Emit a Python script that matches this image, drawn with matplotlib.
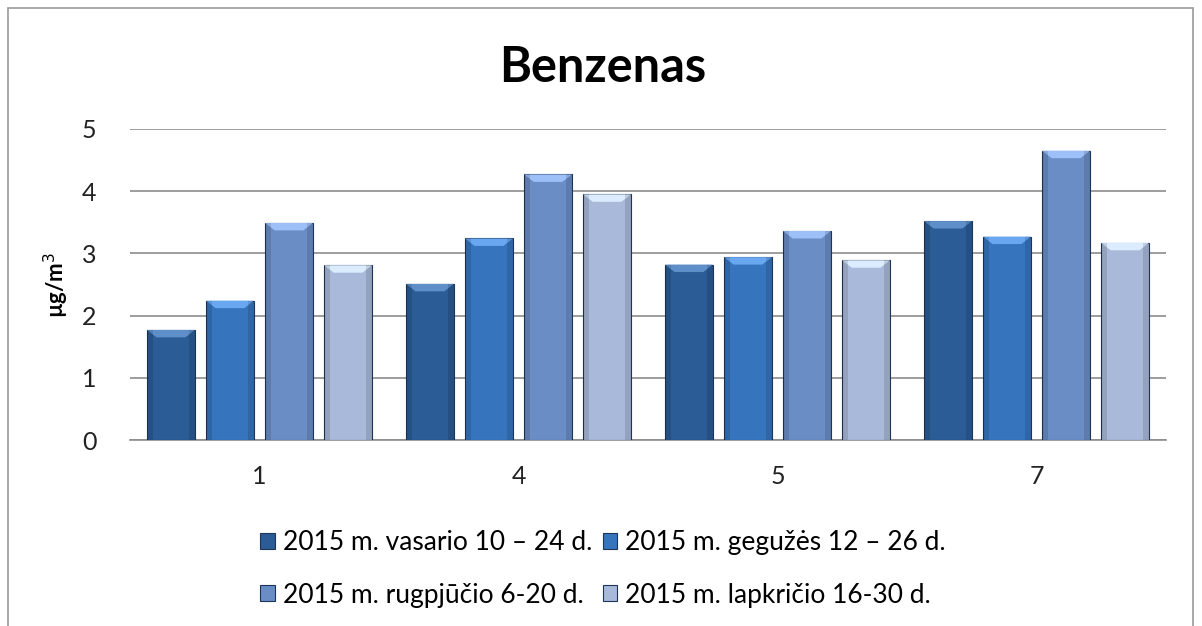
import matplotlib.pyplot as plt
import matplotlib.colors as mcolors
from matplotlib.patches import Rectangle, Polygon
import numpy as np

plt.rcParams['font.family'] = ['Lato', 'DejaVu Sans']

# stations and measuring periods
stations = ["1", "4", "5", "7"]
periods = ["2015 m. vasario 10 – 24 d.", "2015 m. gegužės 12 – 26 d.",
           "2015 m. rugpjūčio 6-20 d.", "2015 m. lapkričio 16-30 d."]
vasaris = [1.77, 2.51, 2.82, 3.52]
geguze = [2.24, 3.24, 2.94, 3.27]
rugpjutis = [3.49, 4.27, 3.36, 4.65]
lapkritis = [2.81, 3.95, 2.89, 3.17]
series = [vasaris, geguze, rugpjutis, lapkritis]
colors = ["#2b5c96", "#3675bd", "#6a8dc6", "#a9b9d9"]

fig = plt.figure(figsize=(12.02, 6.26), dpi=100)
ax = fig.add_axes([130 / 1202, 1 - 440 / 626, 1036 / 1202, 311 / 626])

x = np.arange(len(stations))
pitch = 0.228
width = 0.185
handles = []
for i in range(4):
    pos = x + (i - 1.5) * pitch
    bars = ax.bar(pos, series[i], width, color=colors[i], edgecolor="#1f3557",
                  linewidth=0.8, label=periods[i], zorder=3)
    handles.append(bars)
    # little bevel on the top of every bar, like the office chart
    light = mcolors.to_rgba(colors[i])
    light = tuple(min(1, c + 0.2) for c in light[:3])
    for b in bars:
        x0 = b.get_x()
        w = b.get_width()
        h = b.get_height()
        d = 0.12
        ax.add_patch(Polygon([[x0, h], [x0 + w, h], [x0 + w - w * 0.2, h - d],
                              [x0 + w * 0.2, h - d]], closed=True,
                             facecolor=light, edgecolor="none", zorder=4))
        # darker sides
        ax.add_patch(Rectangle((x0, 0), w * 0.12, h, facecolor="black",
                               alpha=0.12, edgecolor="none", zorder=4))
        ax.add_patch(Rectangle((x0 + w * 0.88, 0), w * 0.12, h, facecolor="black",
                               alpha=0.12, edgecolor="none", zorder=4))

ax.set_xlim(-0.5, 3.5)
ax.set_ylim(0, 5)
ax.set_yticks(range(6))
ax.set_xticks(x)
ax.set_xticklabels(stations)
ax.grid(axis="y", color="#8c8c8c", linewidth=1.2, zorder=0)
for s in ["top", "right", "left"]:
    ax.spines[s].set_visible(False)
ax.spines["bottom"].set_color("#8c8c8c")
ax.spines["bottom"].set_linewidth(1.2)
ax.tick_params(length=0, labelsize=18, colors="#222222")
ax.tick_params(axis="y", pad=24)
ax.tick_params(axis="x", pad=18)
ax.set_ylabel("µg/m$^3$", fontsize=16, fontweight="bold", labelpad=8)

fig.text(603 / 1202, 1 - 68 / 626, "Benzenas", ha="center", va="center",
         fontsize=35, fontweight="bold")

# row-wise order like the original legend, centred on the figure
order = [0, 2, 1, 3]
ax.legend([handles[k] for k in order], [periods[k] for k in order],
          loc="upper center", bbox_to_anchor=(0.4566, -0.213), ncol=2, frameon=False,
          fontsize=19, handlelength=0.55, handleheight=0.55, handletextpad=0.3,
          columnspacing=0.4, labelspacing=1.05)

# outer frame of the chart
fig.patches.append(Rectangle((8 / 1202, -0.05), 1185 / 1202, 1.05 - 8 / 626,
                             transform=fig.transFigure, fill=False,
                             edgecolor="#9a9a9a", linewidth=1.2))

plt.savefig("out.png", dpi=100)
